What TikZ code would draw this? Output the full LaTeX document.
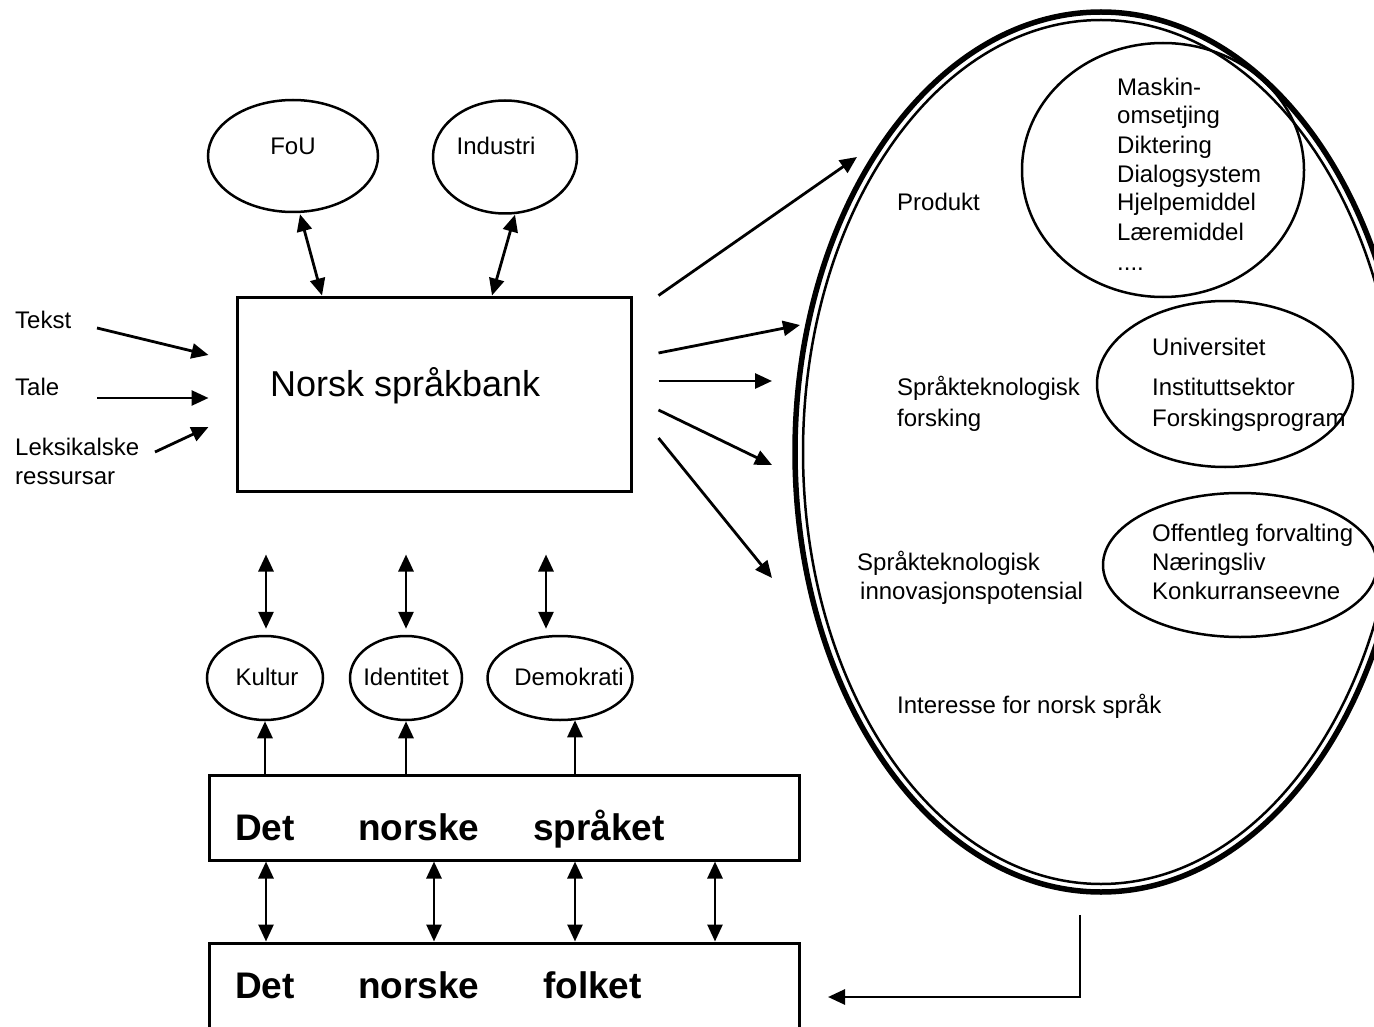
\documentclass[tikz,border=0pt]{standalone}
\usepackage{fontspec}
\setmainfont{Liberation Sans}
\usetikzlibrary{arrows.meta,shapes.geometric,calc}
\begin{document}
\begin{tikzpicture}[x=1pt,y=-1pt,
  arr/.style={line width=2.8pt,-{Triangle[length=17pt,width=15pt]}},
  darr/.style={line width=2.8pt,{Triangle[length=17pt,width=15pt]}-{Triangle[length=17pt,width=15pt]}},
  txt/.style={font=\fontsize{24}{29}\selectfont,inner sep=0pt,anchor=base west,align=left},
  big/.style={font=\fontsize{37}{40}\selectfont\bfseries,inner sep=0pt,anchor=base west},
  ell/.style={ellipse,draw,line width=2.5pt,inner sep=0pt},
  bx/.style={rectangle,draw,line width=3pt,inner sep=0pt},
]
\useasboundingbox[fill=white] (0,0) rectangle (1374,1027);

% Norsk spraakbank
\node[bx,minimum width=394pt,minimum height=194pt] (bank) at (434,394) {};
\node[txt,font=\fontsize{36}{40}\selectfont] (bankT) at (270,396) {Norsk språkbank};

% FoU / Industri
\node[ell,minimum width=170pt,minimum height=112pt] (fou) at (293,156) {};
\node[txt,anchor=base] (fouT) at (293,155) {FoU};
\node[ell,minimum width=144pt,minimum height=113pt] (ind) at (505,157) {};
\node[txt,anchor=base] (indT) at (496,155) {Industri};
\draw[darr] ($(fou.south)+(7,1)$) -- ($(bank.north)+(-112,0)$);
\draw[darr] ($(ind.south)+(10,0)$) -- ($(bank.north)+(58,0)$);

% left inputs
\node[txt] (tekst) at (15,328) {Tekst};
\node[txt] (tale) at (15,395) {Tale};
\node[txt] (leks) at (15,484) {Leksikalske\\ressursar};
\coordinate (tA) at (97,328);
\coordinate (sA) at (97,398);
\coordinate (lA) at (155,452);
\draw[arr] (tA) -- ($(bank.west)+(-27,-39)$);
\draw[arr] (sA) -- ($(bank.west)+(-27,4)$);
\draw[arr] (lA) -- ($(bank.west)+(-27,33)$);

% big ellipse
\node[ellipse,draw,line width=5.5pt,minimum width=612pt,minimum height=880pt,inner sep=0pt] (bigE) at (1101,452) {};
\node[ellipse,draw,line width=2.5pt,minimum width=596pt,minimum height=864pt,inner sep=0pt] (bigI) at (1101,452) {};

% arrows to big ellipse
\coordinate (o1) at (857,157);
\coordinate (o2) at (800,325);
\coordinate (o3) at (772,381);
\coordinate (o4) at (772,465);
\coordinate (o5) at (772,578);
\draw[arr] ($(bank.north east)+(26,0)$) -- (o1);
\draw[arr] ($(bank.east)+(26,-41)$) -- (o2);
\draw[arr] ($(bank.east)+(26,-13)$) -- (o3);
\draw[arr] ($(bank.east)+(26,16)$) -- (o4);
\draw[arr] ($(bank.east)+(26,44)$) -- (o5);

% contents of big ellipse
\node[ell,minimum width=282pt,minimum height=254pt] (prod) at (1163,170) {};
\node[txt] (prodT) at (1117,270) {Maskin-\\omsetjing\\Diktering\\Dialogsystem\\Hjelpemiddel\\Læremiddel\\[1pt]....};
\node[txt] (produkt) at (897,211) {Produkt};

\node[ell,minimum width=256pt,minimum height=166pt] (univ) at (1225,384) {};
\node[txt] (univT1) at (1152,355) {Universitet};
\node[txt] (univT2) at (1152,426) {Instituttsektor\\[2pt]Forskingsprogram};
\node[txt] (forsk) at (897,426) {Språkteknologisk\\[2pt]forsking};

\node[ell,minimum width=274pt,minimum height=144pt] (off) at (1240,565) {};
\node[txt] (offT) at (1152,599) {Offentleg forvalting\\Næringsliv\\Konkurranseevne};
\node[txt] (innov) at (857,599) {Språkteknologisk\\\hspace*{3pt}innovasjonspotensial};
\node[txt] (interesse) at (897,713) {Interesse for norsk språk};

% small ellipses
\node[ell,minimum width=116pt,minimum height=84pt] (kultur) at (265,678) {};
\node[ell,minimum width=112pt,minimum height=84pt] (ident) at (406,678) {};
\node[ell,minimum width=145pt,minimum height=84pt] (demo) at (560,678) {};
\node[txt,anchor=base] (kulturT) at (267,685) {Kultur};
\node[txt,anchor=base] (identT) at (406,685) {Identitet};
\node[txt,anchor=base] (demoT) at (569,685) {Demokrati};

\draw[darr] ($(bank.south -| kultur.north)+(1,62)$) -- ($(kultur.north)+(1,-6)$);
\draw[darr] ($(bank.south -| ident.north)+(0,62)$) -- ($(ident.north)+(0,-6)$);
\draw[darr] ($(bank.south -| demo.north)+(-14,62)$) -- ($(demo.north)+(-14,-6)$);

% bottom boxes
\node[bx,minimum width=590pt,minimum height=85pt] (spr) at (504,817.5) {};
\node[bx,minimum width=590pt,minimum height=87pt] (folk) at (504,986.5) {};
\node[big] (det1) at (235,840) {Det};
\node[big] (nor1) at (358,840) {norske};
\node[big] (sprT) at (533,840) {språket};
\node[big] (det2) at (235,998) {Det};
\node[big] (nor2) at (358,998) {norske};
\node[big] (folkT) at (543,998) {folket};

\draw[arr] (spr.north -| kultur.south) -- (kultur.south);
\draw[arr] (spr.north -| ident.south) -- (ident.south);
\draw[arr] ($(spr.north -| demo.south)+(15,0)$) -- ($(demo.south)+(15,-1)$);

\draw[darr] ($(spr.south)+(-238,0)$) -- ($(folk.north)+(-238,0)$);
\draw[darr] ($(spr.south)+(-70,0)$) -- ($(folk.north)+(-70,0)$);
\draw[darr] ($(spr.south)+(71,0)$) -- ($(folk.north)+(71,0)$);
\draw[darr] ($(spr.south)+(211,0)$) -- ($(folk.north)+(211,0)$);

% feedback
\coordinate (fbEnd) at (828,997);
\draw[arr] ($(bigE.south)+(-21,20)$) |- (fbEnd);
\end{tikzpicture}
\end{document}
